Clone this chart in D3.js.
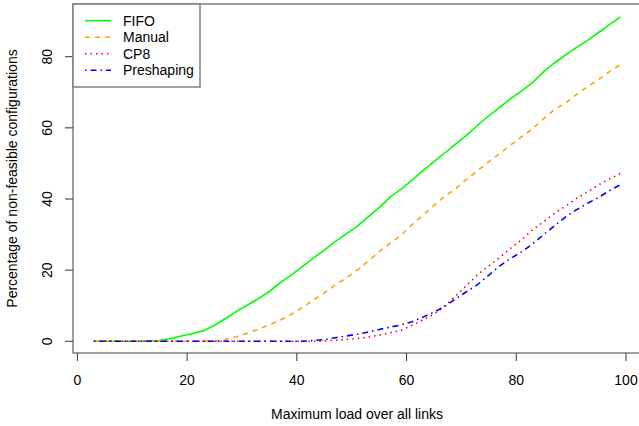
<!DOCTYPE html>
<html lang="en">
<head>
<meta charset="UTF-8">
<title>Non-feasible configurations</title>
<style>
  body { margin: 0; background: #fff; }
  text { font-family: "Liberation Sans", Arial, sans-serif; font-size: 14px; fill: #000; }
</style>
</head>
<body>
<div id="chart"></div>
<script src="https://d3js.org/d3.v7.min.js"></script>
<script>
const loads = d3.range(3, 100, 2);

const fifo = [0, 0, 0, 0, 0, 0.1, 0.2, 0.8, 1.5, 2.2, 3.0, 4.5, 6.4, 8.4, 10.2, 12.0, 14.0, 16.5, 18.6,
  21.0, 23.4, 25.6, 28.0, 30.2, 32.3, 35.0, 37.6, 40.5, 42.8, 45.3, 48.0, 50.5, 53.0, 55.5, 58.0,
  60.8, 63.4, 65.8, 68.2, 70.4, 72.8, 75.8, 78.3, 80.5, 82.6, 84.6, 86.8, 89.0, 91.2];

const manual = [0, 0, 0, 0, 0, 0, 0, 0, 0, 0, 0, 0.1, 0.6, 1.3, 2.3, 3.4, 4.6, 6.0, 7.6, 9.5, 11.6,
  13.6, 15.8, 17.8, 20.0, 22.5, 25.2, 27.6, 29.8, 32.8, 35.5, 38.2, 40.8, 43.0, 45.6, 48.0, 50.5,
  52.8, 55.2, 57.5, 59.8, 62.6, 65.2, 67.0, 69.4, 71.6, 73.6, 75.8, 77.8];

const cp8 = [0, 0, 0, 0, 0, 0, 0, 0, 0, 0, 0, 0, 0, 0, 0, 0, 0, 0, 0, 0, 0, 0.1, 0.3, 0.5, 0.8,
  1.2, 1.7, 2.4, 3.1, 4.5, 6.0, 7.6, 10.0, 12.8, 15.8, 18.8, 21.2, 23.6, 26.2, 28.6, 31.4, 33.6,
  36.0, 38.0, 40.2, 42.0, 44.0, 45.6, 47.2];

const preshaping = [0, 0, 0, 0, 0, 0, 0, 0, 0, 0, 0, 0, 0, 0, 0, 0, 0, 0, 0, 0, 0.2, 0.5, 1.0,
  1.5, 2.0, 2.6, 3.3, 4.0, 4.6, 5.5, 6.8, 8.2, 9.8, 12.0, 14.0, 16.0, 18.6, 21.2, 23.3, 25.2, 27.4,
  30.0, 32.5, 35.0, 37.0, 38.8, 40.4, 42.4, 44.0];

const seriesNames = ["FIFO", "Manual", "CP8", "Preshaping"];
const xTicks = [0, 20, 40, 60, 80, 100];
const yTicks = [0, 20, 40, 60, 80];

const series = [
  { name: seriesNames[0], values: fifo, color: "#00ff00", dash: null },
  { name: seriesNames[1], values: manual, color: "#ffa500", dash: "5,5" },
  { name: seriesNames[2], values: cp8, color: "#ff0000", dash: "1.5,4" },
  { name: seriesNames[3], values: preshaping, color: "#0000ff", dash: "1.5,4,6,4" }
];

const width = 639, height = 426;

const svg = d3.select("#chart").append("svg")
  .attr("width", width)
  .attr("height", height);

// plot region runs past the right edge, as in the original crop
const x = d3.scaleLinear().domain([0, 100]).range([77.4, 626]);
const y = d3.scaleLinear().domain([0, 80]).range([341.3, 56.7]);

const plotLeft = 73, plotTop = 4, plotBottom = 353;

svg.append("path")
  .attr("d", `M${width + 10},${plotTop}H${plotLeft}V${plotBottom}H${width + 10}`)
  .attr("fill", "none")
  .attr("stroke", "#808080")
  .attr("stroke-width", 1.5);

// x axis
const xAxis = svg.append("g");
xAxis.selectAll("line").data(xTicks).join("line")
  .attr("x1", d => x(d)).attr("x2", d => x(d))
  .attr("y1", plotBottom).attr("y2", plotBottom + 8)
  .attr("stroke", "#333");
xAxis.selectAll("text").data(xTicks).join("text")
  .attr("x", d => x(d)).attr("y", 385)
  .attr("text-anchor", "middle")
  .text(d => d);

// y axis
const yAxis = svg.append("g");
yAxis.selectAll("line").data(yTicks).join("line")
  .attr("x1", plotLeft - 8).attr("x2", plotLeft)
  .attr("y1", d => y(d)).attr("y2", d => y(d))
  .attr("stroke", "#333");
yAxis.selectAll("text").data(yTicks).join("text")
  .attr("transform", d => `translate(52,${y(d)}) rotate(-90)`)
  .attr("text-anchor", "middle")
  .text(d => d);

svg.append("text")
  .attr("x", 357).attr("y", 419)
  .attr("text-anchor", "middle")
  .text("Maximum load over all links");

svg.append("text")
  .attr("transform", `translate(17,${(plotTop + plotBottom) / 2}) rotate(-90)`)
  .attr("text-anchor", "middle")
  .text("Percentage of non-feasible configurations");

const line = d3.line()
  .x((d, i) => x(loads[i]))
  .y(d => y(d));

svg.append("g").selectAll("path").data(series).join("path")
  .attr("d", d => line(d.values))
  .attr("fill", "none")
  .attr("stroke", d => d.color)
  .attr("stroke-width", 1.6)
  .attr("stroke-dasharray", d => d.dash);

// legend
const legend = svg.append("g");
legend.append("rect")
  .attr("x", plotLeft).attr("y", plotTop)
  .attr("width", 127).attr("height", 83)
  .attr("fill", "#fff")
  .attr("stroke", "#808080")
  .attr("stroke-width", 1.5);

const rows = legend.selectAll("g.row").data(series).join("g")
  .attr("class", "row")
  .attr("transform", (d, i) => `translate(0,${20.7 + i * 16.5})`);
rows.append("line")
  .attr("x1", 85).attr("x2", 111)
  .attr("stroke", d => d.color)
  .attr("stroke-width", 1.6)
  .attr("stroke-dasharray", d => d.dash);
rows.append("text")
  .attr("x", 123).attr("y", 5)
  .text(d => d.name);
</script>
</body>
</html>
